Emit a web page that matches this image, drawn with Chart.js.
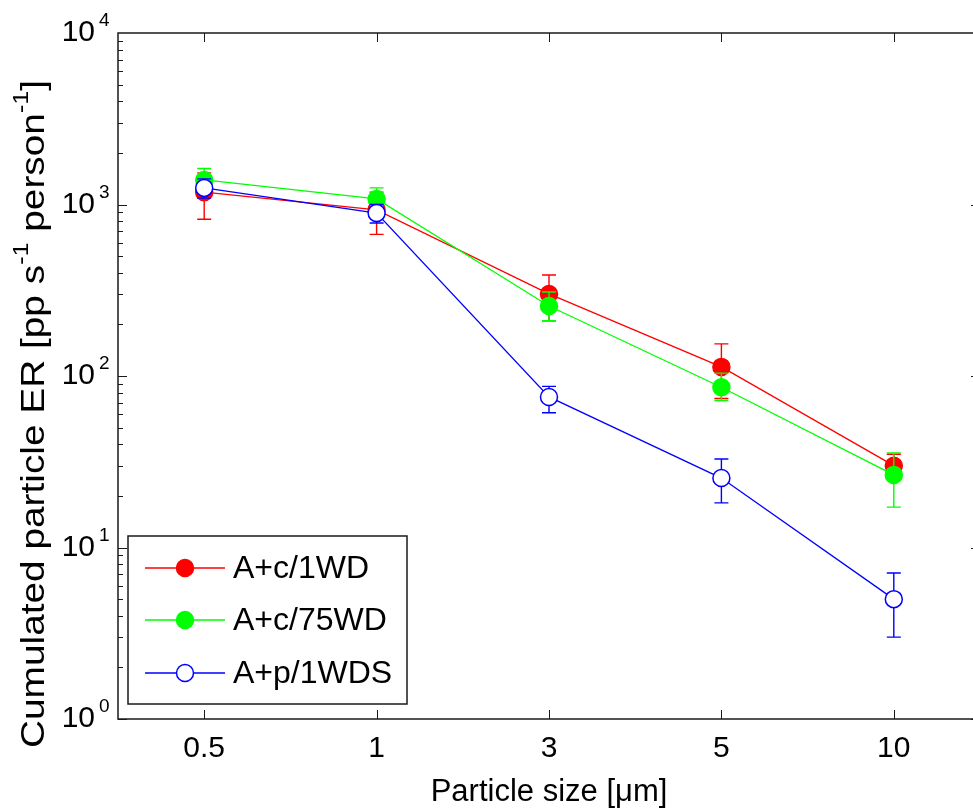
<!DOCTYPE html>
<html>
<head>
<meta charset="utf-8">
<script src="https://cdn.jsdelivr.net/npm/chart.js@4.4.1/dist/chart.umd.min.js"></script>
<style>
html,body{margin:0;padding:0;background:#fff;overflow:hidden;width:973px;height:809px;}
#wrap{width:990px;height:809px;}
</style>
</head>
<body>
<div id="wrap"><canvas id="grafico_er" width="990" height="809"></canvas></div>
<script>
// categorias (tamano de particula, um)
var tamanos = ['0.5', '1', '3', '5', '10'];
// A+c/1WD
var rojo_val  = [1180, 930, 301, 113, 30];
var rojo_min  = [820, 670, 210, 74, 25];
var rojo_max  = [1530, 1180, 388, 154, 35];
// A+c/75WD
var verde_val = [1390, 1077, 256, 86, 26.5];
var verde_min = [1200, 930, 210, 72, 17.2];
var verde_max = [1620, 1250, 309, 104, 35.6];
// A+p/1WDS
var azul_val  = [1250, 891, 75.5, 25.4, 5.0];
var azul_min  = [1090, 780, 61, 18.2, 3.0];
var azul_max  = [1410, 1000, 87, 32.8, 7.1];
var y_ticks_mayores = [1, 10, 100, 1000, 10000];
var series_nombres = ['A+c/1WD', 'A+c/75WD', 'A+p/1WDS'];

var FUENTE = '"Liberation Sans", Arial, sans-serif';
var errores = [
	{min: rojo_min, max: rojo_max, color: '#ff0000'},
	{min: verde_min, max: verde_max, color: '#00ff00'},
	{min: azul_min, max: azul_max, color: '#0000ff'}
];

function $each(arr, fn){ for (var i = 0; i < arr.length; i++) fn(i, arr[i]); }

var plugin_barras_error = {
	id: 'barras_error',
	beforeDatasetDraw: function(chart, args){
		var e = errores[args.index];
		var ys = chart.scales.y;
		var ctx = chart.ctx;
		ctx.save();
		ctx.strokeStyle = e.color;
		ctx.lineWidth = 1.4;
		$each(args.meta.data, function(i, pt){
			var y1 = ys.getPixelForValue(e.min[i]);
			var y2 = ys.getPixelForValue(e.max[i]);
			ctx.beginPath();
			ctx.moveTo(pt.x, y1); ctx.lineTo(pt.x, y2);
			ctx.moveTo(pt.x - 7, y1); ctx.lineTo(pt.x + 7, y1);
			ctx.moveTo(pt.x - 7, y2); ctx.lineTo(pt.x + 7, y2);
			ctx.stroke();
		});
		ctx.restore();
	}
};

var plugin_ejes = {
	id: 'ejes',
	afterDraw: function(chart){
		var ctx = chart.ctx;
		var a = chart.chartArea;
		var xs = chart.scales.x, ys = chart.scales.y;
		ctx.save();
		ctx.strokeStyle = '#1a1a1a';
		ctx.lineWidth = 1.5;
		ctx.strokeRect(a.left, a.top, a.right - a.left, a.bottom - a.top);
		ctx.lineWidth = 1;
		// ticks y (mayores y menores, hacia dentro)
		ctx.beginPath();
		for (var d = 0; d < 4; d++){
			for (var m = 1; m <= 9; m++){
				var py = Math.round(ys.getPixelForValue(m * Math.pow(10, d))) + 0.5;
				var len = m == 1 ? 9 : 5;
				ctx.moveTo(a.left, py); ctx.lineTo(a.left + len, py);
				ctx.moveTo(a.right, py); ctx.lineTo(a.right - len, py);
			}
		}
		// ticks x
		$each(tamanos, function(i){
			var px = Math.round(xs.getPixelForValue(i)) + 0.5;
			ctx.moveTo(px, a.bottom); ctx.lineTo(px, a.bottom - 9);
			ctx.moveTo(px, a.top); ctx.lineTo(px, a.top + 9);
		});
		ctx.stroke();
		// etiquetas eje y: 10 con exponente
		ctx.fillStyle = '#000';
		$each(y_ticks_mayores, function(i, v){
			var py = ys.getPixelForValue(v);
			ctx.font = '30px ' + FUENTE;
			ctx.textAlign = 'right';
			ctx.textBaseline = 'middle';
			ctx.fillText('10', 95, py);
			ctx.font = '19px ' + FUENTE;
			ctx.textAlign = 'left';
			ctx.fillText(String(Math.round(Math.log10(v))), 99, py - 12);
		});
		ctx.font = '30px ' + FUENTE;
		ctx.textAlign = 'center';
		ctx.textBaseline = 'alphabetic';
		$each(tamanos, function(i, t){
			ctx.fillText(t, xs.getPixelForValue(i), 757);
		});
		ctx.font = '31px ' + FUENTE;
		ctx.fillText('Particle size [\u03bcm]', 549, 801);
		// titulo eje y
		ctx.translate(44, 414);
		ctx.rotate(-Math.PI / 2);
		var partes = [['Cumulated particle ER [pp s', 0], ['-1', 1], [' person', 0], ['-1', 1], [']', 0]];
		var tam = 34, total = 0;
		$each(partes, function(i, p){
			ctx.font = (p[1] ? 22 : tam) + 'px ' + FUENTE;
			total += ctx.measureText(p[0]).width;
		});
		ctx.scale(668 / total, 1);
		var cx = -total / 2;
		ctx.textAlign = 'left';
		ctx.textBaseline = 'alphabetic';
		$each(partes, function(i, p){
			ctx.font = (p[1] ? 22 : tam) + 'px ' + FUENTE;
			ctx.fillText(p[0], cx, p[1] ? -16 : 0);
			cx += ctx.measureText(p[0]).width;
		});
		ctx.restore();

		// leyenda
		ctx.save();
		ctx.fillStyle = '#fff';
		ctx.fillRect(128, 536, 279, 168);
		ctx.strokeStyle = '#1a1a1a';
		ctx.lineWidth = 1.5;
		ctx.strokeRect(128, 536, 279, 168);
		var filas = [568, 620, 673];
		$each(chart.data.datasets, function(i, ds){
			var fy = filas[i];
			ctx.strokeStyle = ds.borderColor;
			ctx.lineWidth = ds.borderWidth;
			ctx.beginPath(); ctx.moveTo(145, fy); ctx.lineTo(225, fy); ctx.stroke();
			ctx.beginPath(); ctx.arc(185, fy, ds.pointRadius, 0, Math.PI * 2);
			ctx.fillStyle = ds.pointBackgroundColor; ctx.fill();
			ctx.lineWidth = ds.pointBorderWidth; ctx.strokeStyle = ds.pointBorderColor; ctx.stroke();
			ctx.fillStyle = '#000';
			ctx.font = '32px ' + FUENTE;
			ctx.textAlign = 'left';
			ctx.textBaseline = 'middle';
			ctx.fillText(series_nombres[i], 233, fy + 1);
		});
		ctx.restore();
	}
};

function serie(nombre, datos, color, relleno, orden){
	return {
		label: nombre,
		data: datos,
		borderColor: color,
		borderWidth: 1.3,
		pointRadius: 8.5,
		pointHoverRadius: 8.5,
		pointBackgroundColor: relleno,
		pointBorderColor: color,
		pointBorderWidth: 1.5,
		fill: false,
		tension: 0,
		order: orden
	};
}

new Chart(document.getElementById('grafico_er'), {
	type: 'line',
	data: {
		labels: tamanos,
		datasets: [
			serie(series_nombres[0], rojo_val, '#ff0000', '#ff0000', 3),
			serie(series_nombres[1], verde_val, '#00ff00', '#00ff00', 2),
			serie(series_nombres[2], azul_val, '#0000ff', '#ffffff', 1)
		]
	},
	options: {
		responsive: false,
		animation: false,
		layout: {padding: {left: 118, top: 33, right: 9, bottom: 90}},
		plugins: {legend: {display: false}, tooltip: {enabled: false}},
		scales: {
			x: {type: 'category', offset: true, display: false},
			y: {type: 'logarithmic', min: 1, max: 10000, display: false}
		}
	},
	plugins: [plugin_barras_error, plugin_ejes]
});
</script>
</body>
</html>
